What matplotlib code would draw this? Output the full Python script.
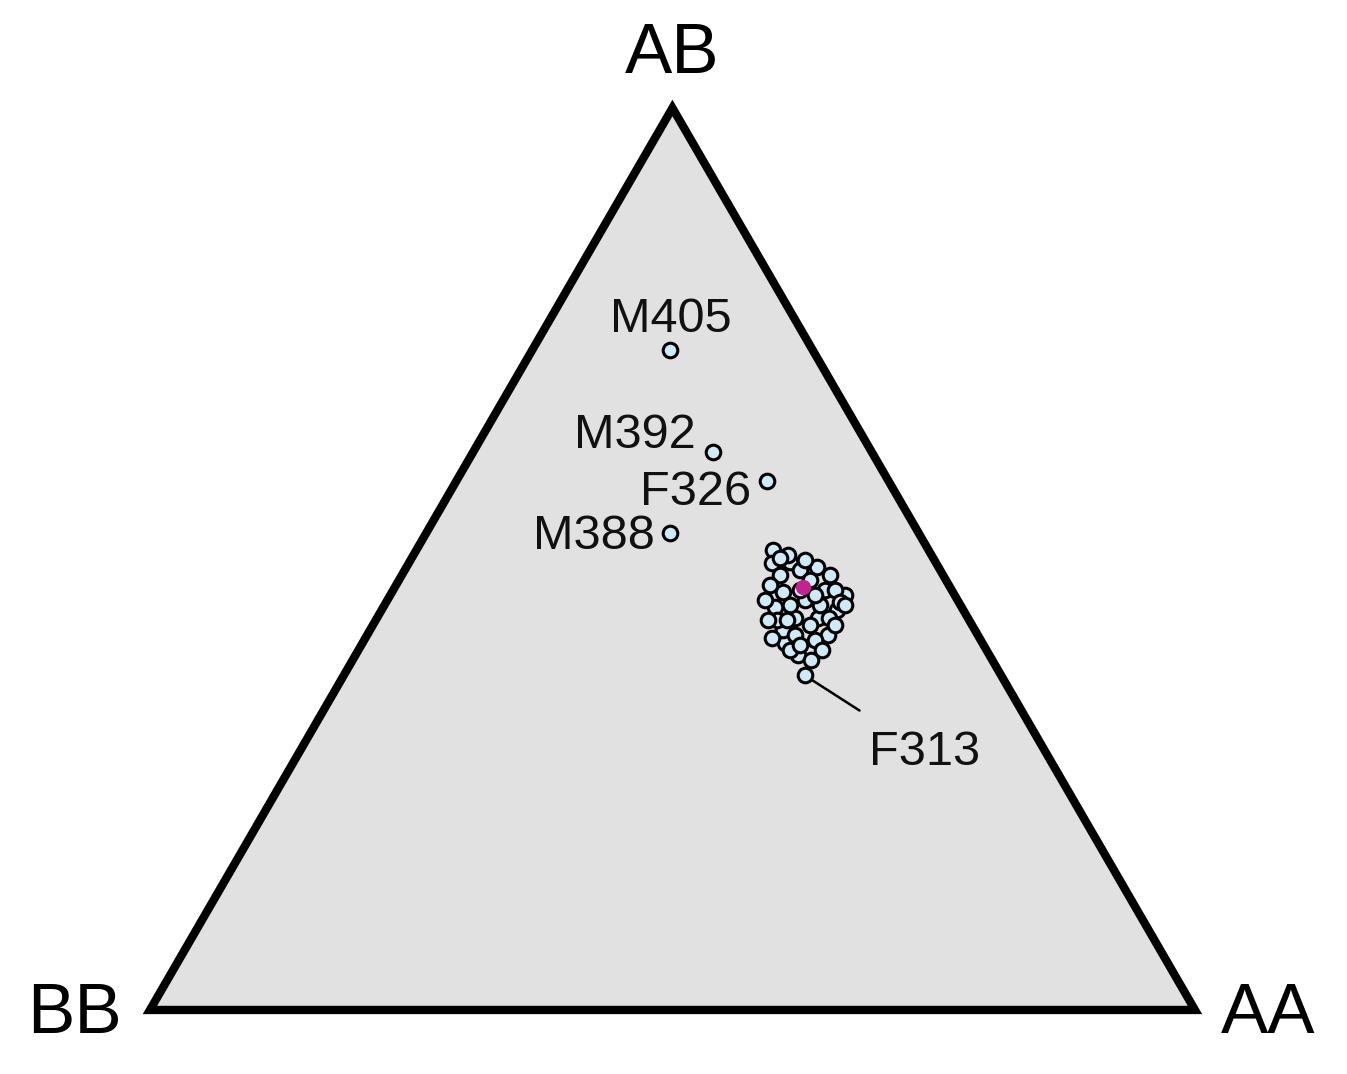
import matplotlib.pyplot as plt
import numpy as np

plt.rcParams['font.family'] = ['Liberation Sans', 'DejaVu Sans']

# genotype frequencies (AA, AB) per individual; BB = 1 - AA - AB
cluster_aa = [0.341, 0.347, 0.364, 0.393, 0.374, 0.435, 0.375, 0.422, 0.441, 0.430,
              0.404, 0.400, 0.395, 0.436, 0.378, 0.393, 0.413, 0.388, 0.399, 0.417,
              0.409, 0.418, 0.362, 0.410, 0.423, 0.423, 0.431, 0.384, 0.434, 0.359,
              0.361, 0.375, 0.413, 0.439, 0.444, 0.389, 0.406, 0.441, 0.352, 0.377,
              0.358, 0.432, 0.420, 0.394, 0.389, 0.442]
cluster_ab = [0.510, 0.496, 0.497, 0.491, 0.463, 0.460, 0.447, 0.435, 0.416, 0.399,
              0.407, 0.435, 0.421, 0.443, 0.488, 0.477, 0.466, 0.449, 0.455, 0.449,
              0.416, 0.427, 0.482, 0.482, 0.466, 0.394, 0.410, 0.432, 0.452, 0.504,
              0.455, 0.432, 0.399, 0.388, 0.399, 0.466, 0.460, 0.449, 0.501, 0.499,
              0.471, 0.435, 0.405, 0.432, 0.412, 0.427]

outlier_names = ["M405", "M392", "F326", "M388", "F313"]
outlier_aa = [0.132, 0.229, 0.297, 0.233, 0.441]
outlier_ab = [0.732, 0.619, 0.586, 0.529, 0.371]

mean_aa, mean_ab = 0.390, 0.469

vertex_labels = ["BB", "AA", "AB"]


def to_xy(aa, ab):
    aa = np.asarray(aa)
    ab = np.asarray(ab)
    return aa + ab / 2, ab


fig = plt.figure(figsize=(13.47, 10.74), dpi=100)
ax = fig.add_axes([0, 0, 1, 1])
ax.set_xlim(-0.1435, 1.1455)
ax.set_ylim(-0.071, 1.1197)
ax.axis('off')

# triangle: BB (0,0), AA (1,0), AB (0.5,1)
tri = plt.Polygon([[0, 0], [1, 0], [0.5, 1]], closed=True, facecolor='#e1e1e1',
                  edgecolor='black', lw=6, joinstyle='miter', zorder=1)
ax.add_patch(tri)

mk = dict(marker='o', ms=10.5, mfc='#cdeaf6', mec='black', mew=2.2, ls='none', zorder=3)
cx, cy = to_xy(cluster_aa, cluster_ab)
ax.plot(cx, cy, **mk)
ox, oy = to_xy(outlier_aa, outlier_ab)
ax.plot(ox, oy, **mk)
mx, my = to_xy(mean_aa, mean_ab)
ax.plot(mx, my, marker='o', ms=10, mfc='#c3238f', mec='#c3238f', ls='none', zorder=4)

offsets = {"M405": ((0, 30), 'center'), "M392": ((-17, 16), 'right'),
           "F326": ((-15, -11), 'right'), "M388": ((-15, -4), 'right')}
for name, x, y in zip(outlier_names, ox, oy):
    if name in offsets:
        off, ha = offsets[name]
        ax.annotate(name, (x, y), xytext=off, textcoords='offset pixels',
                    ha=ha, va='center', fontsize=35, color='#111111', zorder=5)
    else:
        ax.annotate(name, (x, y), xytext=(120, -77), textcoords='offset pixels',
                    ha='center', va='center', fontsize=35, color='#111111', zorder=5,
                    arrowprops=dict(arrowstyle='-', color='black', lw=1.8,
                                    shrinkA=22, shrinkB=7))

ax.text(-0.0718, -0.0055, vertex_labels[0], ha='center', va='center', fontsize=51)
ax.text(1.070, -0.0055, vertex_labels[1], ha='center', va='center', fontsize=51)
ax.text(0.4995, 1.059, vertex_labels[2], ha='center', va='center', fontsize=51)

fig.savefig('out.png', dpi=100, facecolor='white')
